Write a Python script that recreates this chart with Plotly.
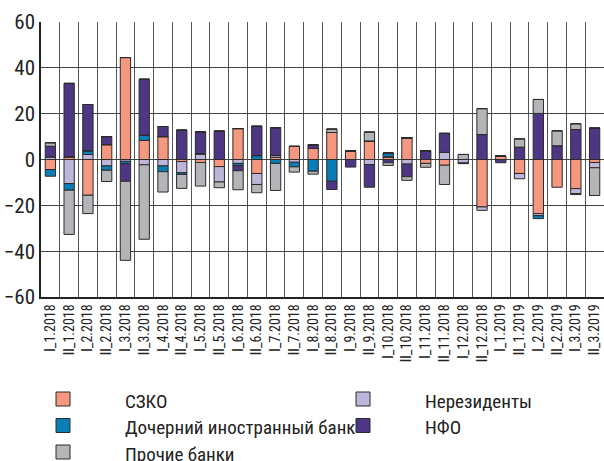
import plotly.graph_objects as go

categories = [
    "I_1.2018", "II_1.2018", "I_2.2018", "II_2.2018", "I_3.2018", "II_3.2018",
    "I_4.2018", "II_4.2018", "I_5.2018", "II_5.2018", "I_6.2018", "II_6.2018",
    "I_7.2018", "II_7.2018", "I_8.2018", "II_8.2018", "I_9.2018", "II_9.2018",
    "I_10.2018", "II_10.2018", "I_11.2018", "II_11.2018", "I_12.2018", "II_12.2018",
    "I_1.2019", "II_1.2019", "I_2.2019", "II_2.2019", "I_3.2019", "II_3.2019",
]

# Each series split into positive and negative parts (млрд руб.)
szko_pos = [0, 1.2, 0, 6.5, 44.5, 8.3, 10.0, 0, 0, 0, 13.5, 0,
            1.0, 5.7, 4.8, 11.8, 3.6, 8.1, 1.2, 9.5, 0, 0, 0, 0,
            1.5, 0, 0, 0, 0, 0]
szko_neg = [-4.4, 0, -15.6, 0, 0, 0, 0, -0.9, -1.3, -3.1, 0, -6.1,
            0, 0, 0, 0, 0, 0, 0, 0, -1.7, -2.5, 0, -20.7,
            0, -6.1, -23.6, -12.1, -12.7, -1.3]

nonres_pos = [1.2, 0, 2.2, 0, 0, 0, 0, 0, 2.5, 0, 0, 0,
              0.8, 0, 0, 0, 0, 0, 0, 0, 0, 3.1, 0, 0,
              0, 0, 0, 0, 0, 0]
nonres_neg = [0, -10.5, 0, -2.8, -0.8, -2.3, -2.8, -4.9, 0, -6.7, -1.7, -4.8,
              0, -1.2, 0, 0, 0, -2.2, 0, -2.0, 0, 0, -1.5, -1.5,
              0, -2.3, -0.9, 0, -2.2, -2.3]

subs_pos = [0, 0, 1.6, 0, 0, 2.3, 0, 0, 0, 0, 0, 1.7,
            0, 0, 0, 0, 0, 0, 1.6, 0, 0, 0, 0, 0,
            0, 0, 0, 0, 0, 0]
subs_neg = [-2.9, -2.9, 0, -1.9, -1.0, 0, -2.5, -0.7, 0, 0, -1.0, 0,
            -1.7, -2.0, -5.1, -9.5, 0, 0, 0, 0, 0, 0, 0, 0,
            0, 0, -1.3, 0, 0, 0]

nfo_pos = [4.6, 32.0, 20.2, 3.5, 0, 24.4, 4.4, 12.8, 9.6, 12.4, 0, 12.8,
           12.1, 0, 1.6, 0, 0, 0, 0, 0, 3.8, 8.3, 0, 10.9,
           0, 5.4, 20.1, 6.0, 13.1, 13.7]
nfo_neg = [0, 0, 0, 0, -7.7, 0, 0, 0, 0, 0, -2.2, 0,
           0, 0, 0, -3.6, -3.3, -9.9, -1.4, -5.5, 0, 0, -0.3, 0,
           -1.4, 0, 0, 0, -0.4, 0]

other_pos = [1.5, 0, 0, 0, 0, 0, 0, 0, 0, 0, 0, 0,
             0, 0, 0, 1.5, 0, 3.9, 0, 0, 0, 0, 2.2, 11.3,
             0, 3.6, 6.1, 6.5, 2.5, 0]
other_neg = [0, -19.3, -8.0, -4.9, -34.5, -32.5, -8.9, -6.1, -10.3, -2.5, -8.3, -3.6,
             -11.8, -2.3, -1.3, 0, 0, 0, -1.2, -1.6, -1.7, -8.4, 0, 0,
             0, 0, 0, 0, 0, -12.1]

# name, positive part, negative part, colour, legend column, legend row
series = [
    ("СЗКО", szko_pos, szko_neg, "#F5987F", 0, 0),
    ("Нерезиденты", nonres_pos, nonres_neg, "#BDB6DA", 1, 0),
    ("Дочерний иностранный банк", subs_pos, subs_neg, "#0A7DB6", 0, 1),
    ("НФО", nfo_pos, nfo_neg, "#4D3683", 1, 1),
    ("Прочие банки", other_pos, other_neg, "#B3B5B9", 0, 2),
]

FONT = "Roboto Condensed, Liberation Sans Narrow, DejaVu Sans Condensed, sans-serif"
EDGE = "#2b2b2b"

W, H = 604, 461
ML, MR, MT, MB = 41, 0, 22, 164
PW, PH = W - ML - MR, H - MT - MB


def px_to_paper(px, py):
    return (px - ML) / PW, (H - MB - py) / PH


fig = go.Figure()
for name, pos, neg, color, col, row in series:
    fig.add_trace(go.Bar(
        x=categories, y=pos, name=name, showlegend=False,
        marker=dict(color=color, line=dict(color=EDGE, width=1)),
    ))
    fig.add_trace(go.Bar(
        x=categories, y=neg, name=name, showlegend=False,
        marker=dict(color=color, line=dict(color=EDGE, width=1)),
    ))

# Two-column key below the chart
col_x = [63, 363]
row_y = [399, 425.5, 452]
text_dx = 60
half = 7
for name, pos, neg, color, col, row in series:
    cx, cy = col_x[col], row_y[row]
    x0, y0 = px_to_paper(cx - half, cy + half)
    x1, y1 = px_to_paper(cx + half, cy - half)
    fig.add_shape(type="rect", xref="paper", yref="paper",
                  x0=x0, y0=y0, x1=x1, y1=y1,
                  fillcolor=color, line=dict(color=EDGE, width=1))
    tx, ty = px_to_paper(cx + text_dx, cy + 2)
    fig.add_annotation(xref="paper", yref="paper", x=tx, y=ty,
                       xanchor="left", yanchor="middle", showarrow=False,
                       text=name, font=dict(size=19, family=FONT, color="#222"))

fig.update_layout(
    width=W, height=H,
    barmode="relative", bargap=0.45,
    plot_bgcolor="white", paper_bgcolor="white",
    margin=dict(l=ML, r=MR, t=MT, b=MB),
    font=dict(family=FONT, color="#222"),
    showlegend=False,
)
fig.update_xaxes(
    type="category", tickangle=-90, tickson="boundaries",
    showgrid=True, gridcolor="#555", gridwidth=1,
    showline=True, linecolor="#222", linewidth=1.5,
    ticks="", tickfont=dict(size=14, family=FONT, color="#222"),
)
fig.update_yaxes(
    range=[-60, 60], tickvals=[-60, -40, -20, 0, 20, 40, 60],
    showgrid=True, gridcolor="#444", gridwidth=1,
    zeroline=True, zerolinecolor="#444", zerolinewidth=1,
    showline=True, linecolor="#222", linewidth=1.5,
    ticks="", tickfont=dict(size=21, family=FONT, color="#222"),
)

fig.write_html("out.html")
